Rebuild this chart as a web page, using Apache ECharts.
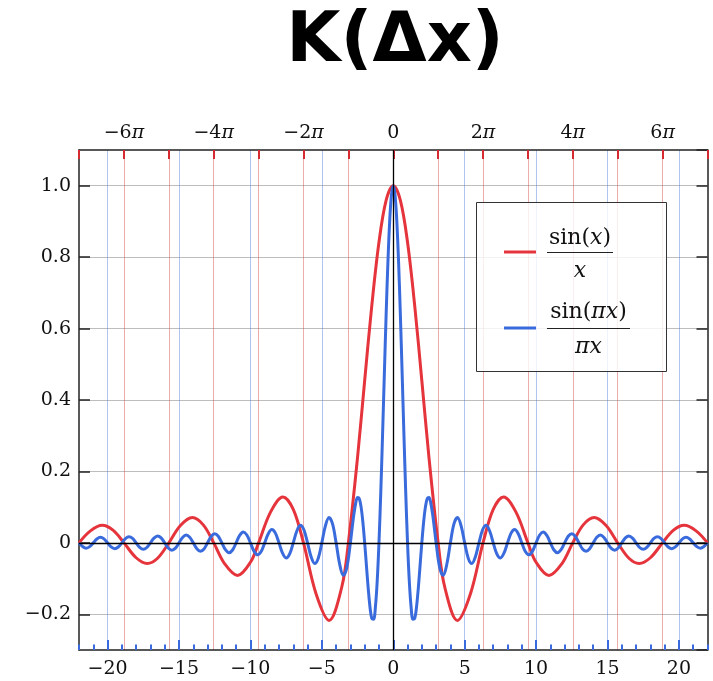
<!DOCTYPE html>
<html><head><meta charset="utf-8">
<script src="https://cdn.jsdelivr.net/npm/echarts@6/dist/echarts.min.js"></script>
<style>html,body{margin:0;padding:0;background:#fff}#c{width:713px;height:681px}</style>
</head><body><div id="c"></div>
<script>
// sin(x)/x, values (zeros, extrema and shoulder points)
const redCurve = [
[-22,0],[-21.2,0.0336],[-20.371,0.0490],[-19.6,0.0348],[-18.85,0],
[-18,-0.0417],[-17.221,-0.0580],[-16.5,-0.0432],[-15.708,0],
[-14.9,0.0485],[-14.066,0.0709],[-13.3,0.0504],[-12.566,0],
[-11.8,-0.0587],[-10.904,-0.0913],[-10,-0.0544],[-9.425,0],
[-8.6,0.0854],[-7.725,0.1284],[-7,0.0939],[-6.283,0],
[-5.4,-0.1431],[-4.493,-0.2172],[-3.6,-0.1229],[-3.1416,0],
[-2.5,0.2394],[-2,0.4546],[-1.5,0.6650],[-1,0.8415],[-0.5,0.9589],
[0,1],
[0.5,0.9589],[1,0.8415],[1.5,0.6650],[2,0.4546],[2.5,0.2394],
[3.1416,0],[3.6,-0.1229],[4.493,-0.2172],[5.4,-0.1431],
[6.283,0],[7,0.0939],[7.725,0.1284],[8.6,0.0854],
[9.425,0],[10,-0.0544],[10.904,-0.0913],[11.8,-0.0587],
[12.566,0],[13.3,0.0504],[14.066,0.0709],[14.9,0.0485],
[15.708,0],[16.5,-0.0432],[17.221,-0.0580],[18,-0.0417],
[18.85,0],[19.6,0.0348],[20.371,0.0490],[21.2,0.0336],[22,0]
];
// sin(pi x)/(pi x)
const blueCurve = [
[-22,0],[-21.75,-0.0103],[-21.5,-0.0148],[-21.25,-0.0106],
[-21,0],[-20.75,0.0108],[-20.5,0.0155],[-20.25,0.0111],
[-20,0],[-19.75,-0.0114],[-19.5,-0.0163],[-19.25,-0.0117],
[-19,0],[-18.75,0.0120],[-18.5,0.0172],[-18.25,0.0123],
[-18,0],[-17.75,-0.0127],[-17.5,-0.0182],[-17.25,-0.0130],
[-17,0],[-16.75,0.0134],[-16.5,0.0193],[-16.25,0.0139],
[-16,0],[-15.75,-0.0143],[-15.5,-0.0205],[-15.25,-0.0148],
[-15,0],[-14.75,0.0153],[-14.5,0.0220],[-14.25,0.0158],
[-14,0],[-13.75,-0.0164],[-13.5,-0.0236],[-13.25,-0.0170],
[-13,0],[-12.75,0.0177],[-12.5,0.0255],[-12.25,0.0184],
[-12,0],[-11.75,-0.0192],[-11.5,-0.0277],[-11.25,-0.0200],
[-11,0],[-10.75,0.0209],[-10.5,0.0303],[-10.25,0.0220],
[-10,0],[-9.75,-0.0231],[-9.5,-0.0335],[-9.25,-0.0243],
[-9,0],[-8.75,0.0257],[-8.5,0.0374],[-8.25,0.0273],
[-8,0],[-7.75,-0.0290],[-7.5,-0.0424],[-7.25,-0.0310],
[-7,0],[-6.75,0.0333],[-6.5,0.0490],[-6.25,0.0360],
[-6,0],[-5.75,-0.0391],[-5.5,-0.0579],[-5.25,-0.0429],
[-5,0],[-4.75,0.0474],[-4.5,0.0707],[-4.25,0.0530],
[-4,0],[-3.75,-0.0600],[-3.5,-0.0909],[-3.25,-0.0693],
[-3,0],[-2.875,0.0424],[-2.75,0.0818],[-2.625,0.1120],[-2.5,0.1273],[-2.375,0.1238],[-2.25,0.1000],[-2.125,0.0573],
[-2,0],[-1.875,-0.0650],[-1.75,-0.1286],[-1.625,-0.1810],[-1.5,-0.2122],[-1.375,-0.2139],[-1.25,-0.1801],[-1.125,-0.1083],
[-1,0],[-0.875,0.1392],[-0.75,0.3001],[-0.625,0.4705],[-0.5,0.6366],[-0.375,0.7842],[-0.25,0.9003],[-0.125,0.9745],
[0,1],
[0.125,0.9745],[0.25,0.9003],[0.375,0.7842],[0.5,0.6366],[0.625,0.4705],[0.75,0.3001],[0.875,0.1392],[1,0],
[1.125,-0.1083],[1.25,-0.1801],[1.375,-0.2139],[1.5,-0.2122],[1.625,-0.1810],[1.75,-0.1286],[1.875,-0.0650],[2,0],
[2.125,0.0573],[2.25,0.1000],[2.375,0.1238],[2.5,0.1273],[2.625,0.1120],[2.75,0.0818],[2.875,0.0424],[3,0],
[3.25,-0.0693],[3.5,-0.0909],[3.75,-0.0600],[4,0],
[4.25,0.0530],[4.5,0.0707],[4.75,0.0474],[5,0],
[5.25,-0.0429],[5.5,-0.0579],[5.75,-0.0391],[6,0],
[6.25,0.0360],[6.5,0.0490],[6.75,0.0333],[7,0],
[7.25,-0.0310],[7.5,-0.0424],[7.75,-0.0290],[8,0],
[8.25,0.0273],[8.5,0.0374],[8.75,0.0257],[9,0],
[9.25,-0.0243],[9.5,-0.0335],[9.75,-0.0231],[10,0],
[10.25,0.0220],[10.5,0.0303],[10.75,0.0209],[11,0],
[11.25,-0.0200],[11.5,-0.0277],[11.75,-0.0192],[12,0],
[12.25,0.0184],[12.5,0.0255],[12.75,0.0177],[13,0],
[13.25,-0.0170],[13.5,-0.0236],[13.75,-0.0164],[14,0],
[14.25,0.0158],[14.5,0.0220],[14.75,0.0153],[15,0],
[15.25,-0.0148],[15.5,-0.0205],[15.75,-0.0143],[16,0],
[16.25,0.0139],[16.5,0.0193],[16.75,0.0134],[17,0],
[17.25,-0.0130],[17.5,-0.0182],[17.75,-0.0127],[18,0],
[18.25,0.0123],[18.5,0.0172],[18.75,0.0120],[19,0],
[19.25,-0.0117],[19.5,-0.0163],[19.75,-0.0114],[20,0],
[20.25,0.0111],[20.5,0.0155],[20.75,0.0108],[21,0],
[21.25,-0.0106],[21.5,-0.0148],[21.75,-0.0103],[22,0]
];
const seriesNames = ['sin(x)/x', 'sin(πx)/(πx)'];
const topTickMultiples = [-6, -4, -2, 0, 2, 4, 6];
const topTickLabels = ['−6π', '−4π', '−2π', '0', '2π', '4π', '6π'];
const xRange = [-22, 22];
const yRange = [-0.3, 1.1];
const titleText = 'K(Δx)';

const RED = '#e5343b', BLUE = '#3a6bdc';
const SERIF = 'DejaVu Serif';
const minus = v => (v < 0 ? '−' : '') + Math.abs(v);

const chart = echarts.init(document.getElementById('c'), null, {renderer: 'canvas'});
const labelStyle = {fontFamily: SERIF, fontSize: 19, color: '#111'};
const txt = (s, size) => ({fontFamily: SERIF, fontSize: size, fill: '#111'});

chart.setOption({
  animation: false,
  backgroundColor: '#fff',
  title: {text: titleText, left: 390, top: 3, textAlign: 'center',
    textStyle: {fontFamily: 'DejaVu Sans', fontWeight: 'bold', fontSize: 70, color: '#000'}},
  grid: {left: 79, right: 5.5, top: 150, bottom: 31, containLabel: false},
  xAxis: [
    {type: 'value', position: 'bottom', min: xRange[0], max: xRange[1], splitNumber: 8,
     axisLine: {onZero: false, lineStyle: {color: '#222', width: 1.5}},
     axisTick: {inside: true, length: 10, lineStyle: {color: BLUE, width: 2}},
     axisLabel: {showMinLabel: false, showMaxLabel: false, margin: 10, ...labelStyle, formatter: v => minus(v)},
     splitLine: {show: true, showMinLine: false, showMaxLine: false, lineStyle: {color: 'rgba(70,115,220,0.42)', width: 1}}},
    {type: 'value', position: 'bottom', min: xRange[0], max: xRange[1], interval: 1,
     axisLine: {show: false, onZero: false},
     axisTick: {inside: true, length: 5.5, lineStyle: {color: BLUE, width: 2}},
     axisLabel: {show: false}, splitLine: {show: false}},
    {type: 'value', position: 'top', min: -7 * Math.PI, max: 7 * Math.PI, interval: Math.PI,
     axisLine: {onZero: false, lineStyle: {color: '#222', width: 1.5}},
     axisTick: {inside: true, length: 9, lineStyle: {color: '#d42a30', width: 2}},
     axisLabel: {margin: 7, ...labelStyle,
       rich: {i: {fontFamily: SERIF, fontSize: 19, fontStyle: 'italic', color: '#111'}},
       formatter: v => {
         const k = Math.round(v / Math.PI);
         const idx = topTickMultiples.indexOf(k);
         if (idx < 0) return '';
         return topTickLabels[idx].replace('π', '{i|π}');
       }},
     splitLine: {show: true, showMinLine: false, showMaxLine: false, lineStyle: {color: 'rgba(215,70,70,0.45)', width: 1}}}
  ],
  yAxis: [
    {type: 'value', position: 'left', min: yRange[0], max: yRange[1], splitNumber: 7,
     axisLine: {onZero: false, lineStyle: {color: '#222', width: 1.5}},
     axisTick: {inside: true, length: 11, lineStyle: {color: '#222', width: 1.5}},
     axisLabel: {showMinLabel: false, showMaxLabel: false, margin: 8, ...labelStyle,
       formatter: v => Math.abs(v) < 1e-9 ? '0' : (v < 0 ? '−' : '') + Math.abs(v).toFixed(1)},
     splitLine: {show: true, showMinLine: false, showMaxLine: false, lineStyle: {color: '#bdbdbd', width: 1}}},
    {type: 'value', position: 'right', min: yRange[0], max: yRange[1], splitNumber: 7,
     axisLine: {onZero: false, lineStyle: {color: '#222', width: 1.5}},
     axisTick: {inside: true, length: 11, lineStyle: {color: '#222', width: 1.5}},
     axisLabel: {show: false}, splitLine: {show: false}}
  ],
  series: [
    {type: 'line', name: 'zero', data: [[0, 0]], symbol: 'none', lineStyle: {opacity: 0}, z: 1, silent: true,
     markLine: {silent: true, symbol: ['none', 'none'], label: {show: false},
       lineStyle: {color: '#000', width: 1.3, type: 'solid'}, emphasis: {disabled: true},
       data: [{xAxis: 0}, {yAxis: 0}]}},
    {type: 'line', name: seriesNames[0], data: redCurve, showSymbol: false, symbol: 'none', smooth: 0.35,
     lineStyle: {color: RED, width: 3}, itemStyle: {color: RED}, z: 3},
    {type: 'line', name: seriesNames[1], data: blueCurve, showSymbol: false, symbol: 'none', smooth: 0.35,
     lineStyle: {color: BLUE, width: 3}, itemStyle: {color: BLUE}, z: 4}
  ],
  graphic: [
    {type: 'rect', z: 50, shape: {x: 476.5, y: 202.5, width: 190, height: 169},
     style: {fill: 'rgba(255,255,255,0.8)', stroke: '#333', lineWidth: 1}},
    {type: 'line', z: 51, shape: {x1: 504, y1: 252, x2: 536, y2: 252}, style: {stroke: RED, lineWidth: 3}},
    {type: 'text', z: 51, x: 580, y: 238, style: {text: '{r|sin(}{i|x}{r|)}', align: 'center', verticalAlign: 'middle',
      rich: {r: txt('', 22), i: {...txt('', 22), fontStyle: 'italic'}}}},
    {type: 'line', z: 51, shape: {x1: 547, y1: 252.5, x2: 613, y2: 252.5}, style: {stroke: '#222', lineWidth: 1}},
    {type: 'text', z: 51, x: 580, y: 271, style: {text: '{i|x}', align: 'center', verticalAlign: 'middle',
      rich: {i: {...txt('', 22), fontStyle: 'italic'}}}},
    {type: 'line', z: 51, shape: {x1: 504, y1: 328, x2: 536, y2: 328}, style: {stroke: BLUE, lineWidth: 3}},
    {type: 'text', z: 51, x: 588.5, y: 312, style: {text: '{r|sin(}{i|πx}{r|)}', align: 'center', verticalAlign: 'middle',
      rich: {r: txt('', 22), i: {...txt('', 22), fontStyle: 'italic'}}}},
    {type: 'line', z: 51, shape: {x1: 547, y1: 328.5, x2: 630, y2: 328.5}, style: {stroke: '#222', lineWidth: 1}},
    {type: 'text', z: 51, x: 588.5, y: 347, style: {text: '{i|πx}', align: 'center', verticalAlign: 'middle',
      rich: {i: {...txt('', 22), fontStyle: 'italic'}}}}
  ]
});
</script>
</body></html>
